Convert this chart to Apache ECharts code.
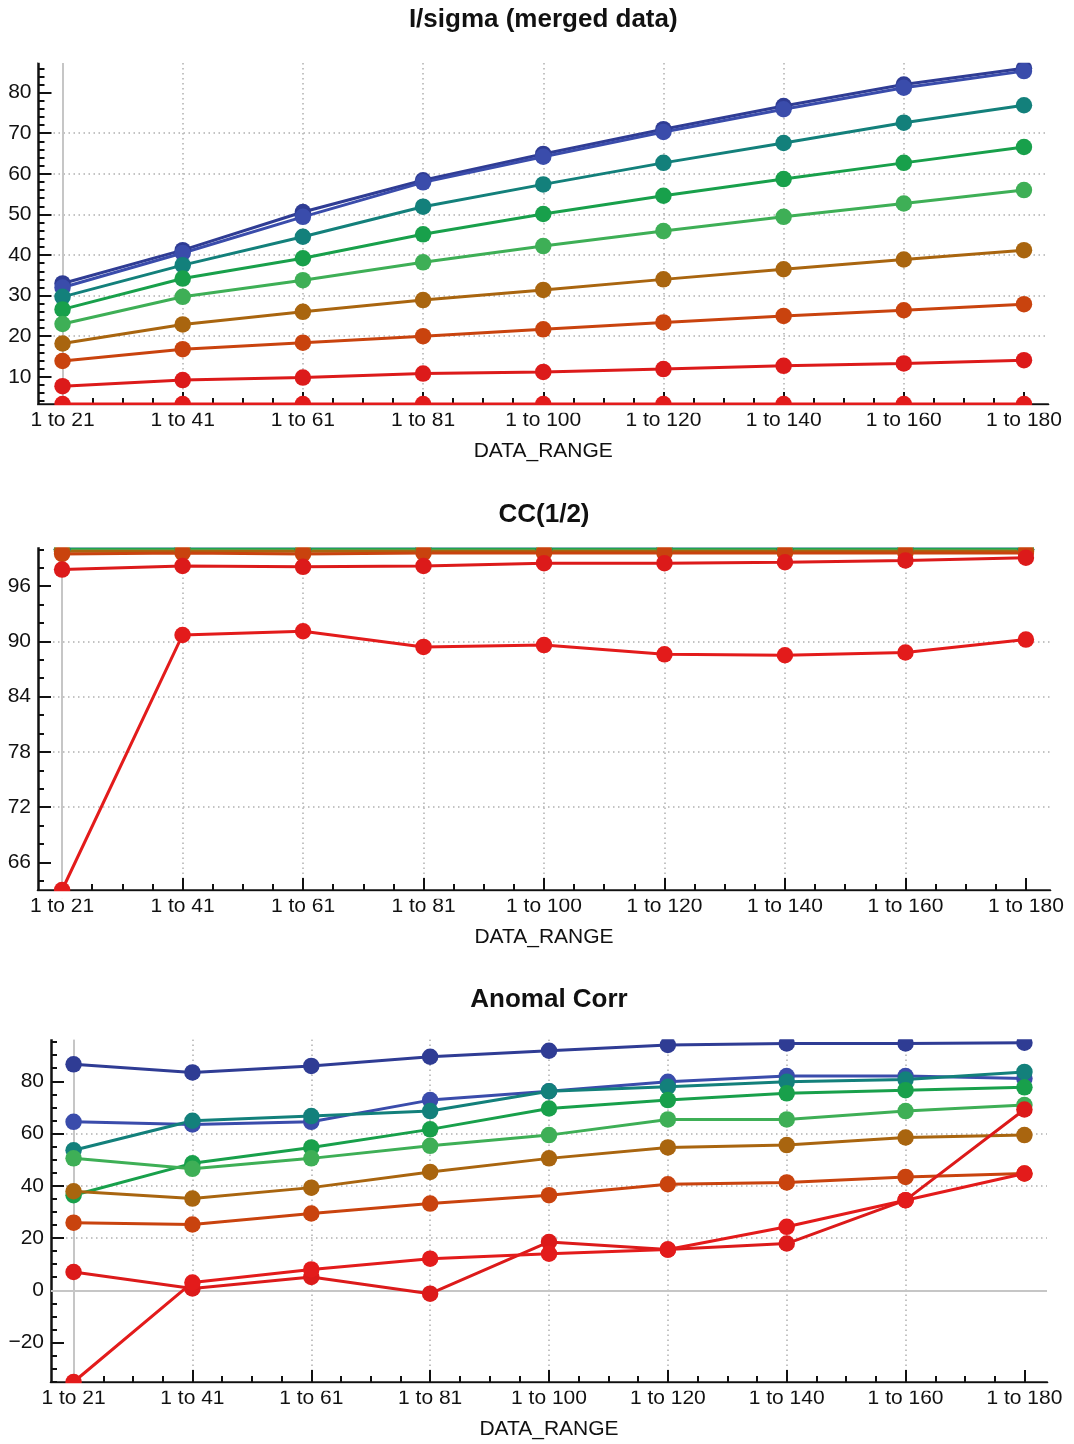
<!DOCTYPE html>
<html>
<head>
<meta charset="utf-8">
<title>Data range statistics</title>
<script src="https://cdn.jsdelivr.net/npm/echarts@6/dist/echarts.min.js"></script>
<style>
  html, body { margin: 0; padding: 0; background: #fff; }
  #chart { width: 1074px; height: 1444px; }
</style>
</head>
<body>
<div id="chart"></div>
<script>
const categories = ['1 to 21', '1 to 41', '1 to 61', '1 to 81', '1 to 100', '1 to 120', '1 to 140', '1 to 160', '1 to 180'];

// I/sigma (merged data), one array per shell (low -> high resolution)
const isig1 = [33.0, 41.2, 50.6, 58.4, 64.9, 71.0, 76.7, 82.0, 86.0];
const isig2 = [32.0, 40.5, 49.4, 57.9, 64.2, 70.3, 75.9, 81.2, 85.3];
const isig3 = [29.7, 37.5, 44.5, 51.9, 57.4, 62.7, 67.6, 72.6, 76.9];
const isig4 = [26.6, 34.2, 39.2, 45.1, 50.1, 54.6, 58.7, 62.7, 66.6];
const isig5 = [23.0, 29.7, 33.8, 38.2, 42.2, 45.9, 49.4, 52.7, 56.0];
const isig6 = [18.2, 22.9, 26.0, 28.9, 31.4, 34.0, 36.5, 38.9, 41.2];
const isig7 = [13.9, 16.8, 18.4, 20.0, 21.7, 23.4, 25.0, 26.4, 27.9];
const isig8 = [7.7, 9.2, 9.8, 10.8, 11.2, 11.9, 12.7, 13.3, 14.1];
const isig9 = [3.3, 3.3, 3.3, 3.3, 3.3, 3.3, 3.3, 3.3, 3.3];

// CC(1/2)
const cc1 = [100.0, 100.0, 100.0, 100.0, 100.0, 100.0, 100.0, 100.0, 100.0];
const cc2 = [100.0, 100.0, 100.0, 100.0, 100.0, 100.0, 100.0, 100.0, 100.0];
const cc3 = [100.0, 100.0, 100.0, 100.0, 100.0, 100.0, 100.0, 100.0, 100.0];
const cc4 = [100.0, 100.0, 100.0, 100.0, 100.0, 100.0, 100.0, 100.0, 100.0];
const cc5 = [99.9, 99.9, 99.9, 99.9, 99.9, 99.9, 99.9, 99.9, 99.9];
const cc6 = [99.8, 99.8, 99.8, 99.8, 99.8, 99.8, 99.8, 99.8, 99.8];
const cc7 = [99.5, 99.6, 99.5, 99.6, 99.6, 99.6, 99.6, 99.6, 99.6];
const cc8 = [97.8, 98.2, 98.1, 98.2, 98.5, 98.5, 98.6, 98.8, 99.1];
const cc9 = [63.0, 90.7, 91.1, 89.4, 89.6, 88.6, 88.5, 88.8, 90.2];

// Anomal Corr
const anom1 = [86.5, 83.4, 85.9, 89.4, 91.7, 93.9, 94.5, 94.5, 94.8];
const anom2 = [64.5, 63.5, 64.5, 72.8, 76.2, 79.8, 82.0, 82.0, 81.1];
const anom3 = [53.6, 64.9, 66.7, 68.6, 76.2, 77.9, 79.8, 80.7, 83.6];
const anom4 = [36.4, 48.6, 54.7, 61.6, 69.6, 72.8, 75.4, 76.6, 77.7];
const anom5 = [50.5, 46.5, 50.5, 55.3, 59.4, 65.4, 65.4, 68.6, 70.9];
const anom6 = [37.9, 35.1, 39.3, 45.3, 50.5, 54.7, 55.6, 58.5, 59.4];
const anom7 = [25.9, 25.2, 29.4, 33.2, 36.4, 40.6, 41.3, 43.4, 44.7];
const anom8 = [7.0, 0.7, 5.1, -1.3, 18.5, 15.6, 17.9, 34.5, 69.2];
const anom9 = [-35.1, 3.0, 8.0, 12.1, 14.0, 15.6, 24.3, 34.5, 44.7];

// tick values
const isigMajor = [10, 20, 30, 40, 50, 60, 70, 80];
const ccMajor = [66, 72, 78, 84, 90, 96];
const anomMajor = [-20, 0, 20, 40, 60, 80];

const shellColors = ['#2f3c94', '#3a4cab', '#13807b', '#18a04b', '#3eaf56', '#a9650f', '#c9430e', '#dc1a1a', '#e31b1b'];
const fontFamily = '"Liberation Sans", Arial, sans-serif';
const ink = '#111';

function steps(from, to, step) {
  const out = [];
  for (let v = from; v <= to + 1e-9; v += step) out.push(Math.round(v * 100) / 100);
  return out;
}

const catIndex = categories.map((c, k) => k);
const xMinor = steps(0, categories.length - 1, 0.25);

const panels = [
  {
    title: 'I/sigma (merged data)', titleTop: 7,
    data: [isig1, isig2, isig3, isig4, isig5, isig6, isig7, isig8, isig9],
    yMin: 3.3, yMax: 87.3, step: 10, major: isigMajor, minor: steps(4, 86, 2),
    left: 38.5, right: 26, top: 63, bottom: 1040, xPad: 0.2, zeroLine: false
  },
  {
    title: 'CC(1/2)', titleTop: 502,
    data: [cc1, cc2, cc3, cc4, cc5, cc6, cc7, cc8, cc9],
    yMin: 63.0, yMax: 100.2, step: 6, major: ccMajor, minor: steps(64, 100, 2),
    left: 38, right: 24, top: 547.5, bottom: 554, xPad: 0.2, zeroLine: false
  },
  {
    title: 'Anomal Corr', titleTop: 987,
    data: [anom1, anom2, anom3, anom4, anom5, anom6, anom7, anom8, anom9],
    yMin: -35.1, yMax: 96, step: 20, major: anomMajor, minor: steps(-35, 95, 5),
    left: 51, right: 27, top: 1039.5, bottom: 62, xPad: 0.19, zeroLine: true
  }
];

const dotted = { color: '#b0b0b0', width: 1.5, type: [1.5, 3.5] };
const tickLine = { color: ink, width: 2 };
const labelText = { fontFamily: fontFamily, fontSize: 21, color: ink };

const titles = [], grids = [], xAxes = [], yAxes = [], series = [], covers = [];

panels.forEach((p, i) => {
  const main = 2 * i, minor = 2 * i + 1;
  const box = { left: p.left, right: p.right, top: p.top, bottom: p.bottom };
  const plotW = 1074 - p.left - p.right;
  const axisY = 1444 - p.bottom;

  titles.push({
    text: p.title, left: p.left + plotW / 2, top: p.titleTop, textAlign: 'center', padding: 0,
    textStyle: { fontFamily: fontFamily, fontSize: 26, fontWeight: 'bold', color: ink }
  });
  grids.push(box, box);

  xAxes.push({
    gridIndex: main, type: 'value', min: -p.xPad, max: categories.length - 1 + p.xPad,
    minInterval: 1, maxInterval: 1,
    name: 'DATA_RANGE', nameLocation: 'middle', nameGap: 37, nameTextStyle: labelText,
    axisLine: { show: true, onZero: false, lineStyle: { color: ink, width: 2.5 } },
    axisTick: { show: true, inside: true, length: 12, customValues: catIndex, lineStyle: tickLine },
    axisLabel: Object.assign({ customValues: catIndex, margin: 6, formatter: v => categories[Math.round(v)] }, labelText),
    splitLine: { show: true, showMinLine: false, showMaxLine: false, lineStyle: dotted }
  });
  xAxes.push({
    gridIndex: minor, type: 'value', min: -p.xPad, max: categories.length - 1 + p.xPad,
    axisLine: { show: false, onZero: false },
    axisTick: { show: true, inside: true, length: 6, customValues: xMinor, lineStyle: tickLine },
    axisLabel: { show: false }, splitLine: { show: false }
  });

  yAxes.push({
    gridIndex: main, type: 'value', min: p.yMin, max: p.yMax,
    minInterval: p.step, maxInterval: p.step,
    axisLine: { show: true, onZero: false, lineStyle: { color: ink, width: 2.5 } },
    axisTick: { show: true, inside: true, length: 13, customValues: p.major, lineStyle: tickLine },
    axisLabel: Object.assign({ customValues: p.major, margin: 7, formatter: v => String(v).replace('-', '\u2212') }, labelText),
    splitLine: { show: true, showMinLine: false, showMaxLine: false, lineStyle: dotted }
  });
  yAxes.push({
    gridIndex: minor, type: 'value', min: p.yMin, max: p.yMax,
    axisLine: { show: false, onZero: false },
    axisTick: { show: true, inside: true, length: 6, customValues: p.minor, lineStyle: tickLine },
    axisLabel: { show: false }, splitLine: { show: false }
  });

  // light grey axes through the first range (and through zero)
  const refLines = [{ xAxis: 0 }];
  if (p.zeroLine) refLines.push({ yAxis: 0 });
  series.push({
    type: 'line', xAxisIndex: main, yAxisIndex: main, data: [], silent: true,
    markLine: {
      silent: true, z: 1, symbol: 'none', label: { show: false }, animation: false,
      lineStyle: { color: '#c6c6c6', width: 2, type: 'solid' }, data: refLines
    }
  });

  p.data.forEach((vals, k) => {
    series.push({
      type: 'line', name: p.title + ' ' + (k + 1), xAxisIndex: main, yAxisIndex: main,
      data: vals.map((v, j) => [j, v]),
      clip: false, symbol: 'circle', symbolSize: 16.5,
      color: shellColors[k], lineStyle: { width: 3 },
      emphasis: { disabled: true }
    });
  });

  // white strips just outside the frame so edge markers look clipped
  covers.push({
    type: 'rect', z: 100, silent: true,
    shape: { x: p.left - 1, y: p.top - 18, width: plotW + 2, height: 17.7 }, style: { fill: '#fff' }
  });
  covers.push({
    type: 'rect', z: 100, silent: true,
    shape: { x: p.left - 1, y: axisY + 1.3, width: plotW + 2, height: 7.5 }, style: { fill: '#fff' }
  });
});

const chart = echarts.init(document.getElementById('chart'));
chart.setOption({
  backgroundColor: '#fff',
  animation: false,
  title: titles,
  grid: grids,
  xAxis: xAxes,
  yAxis: yAxes,
  series: series,
  graphic: covers
});
</script>
</body>
</html>
